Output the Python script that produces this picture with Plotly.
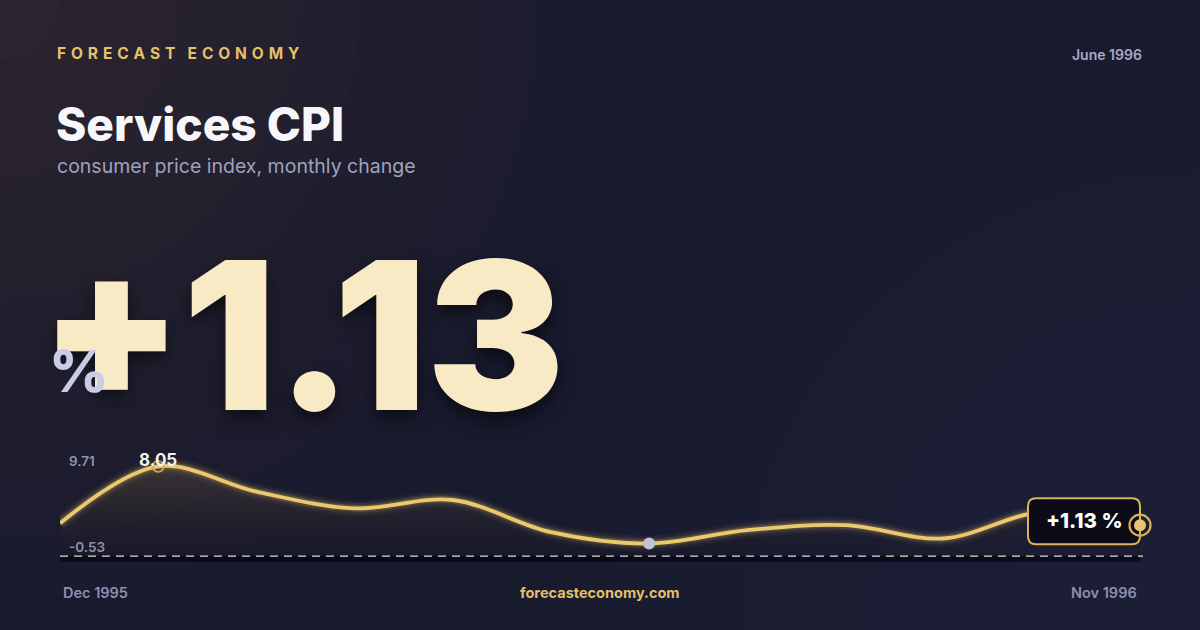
import plotly.graph_objects as go

W, H = 1200, 630

# monthly change
months = ["Dec 1995", "Jan 1996", "Feb 1996", "Mar 1996", "Apr 1996", "May 1996",
          "Jun 1996", "Jul 1996", "Aug 1996", "Sep 1996", "Oct 1996", "Nov 1996"]
values = [2.94, 8.05, 5.79, 4.29, 5.04, 2.15, 1.13, 2.33, 2.78, 1.58, 3.95, 2.78]
y_range = [-0.53, 9.71]
headline = "+1.13"
report_month = "June 1996"

GOLD = "#ecc96c"
BG = "#181a2e"
FONT = "Inter"


def px(x):
    return x / W


def py(y):
    return 1 - y / H


xs = list(range(len(months)))
peak_i = values.index(max(values))
low_i = values.index(min(values))
last_i = len(values) - 1

# plot area runs a bit past the last month so the end marker is not clipped
x_left, x_last, x_right = 60, 1140, 1160
x_max = xs[-1] * (x_right - x_left) / (x_last - x_left)

fig = go.Figure()

# glow layers under the line
for width, alpha in [(16, 0.05), (11, 0.1), (7, 0.2)]:
    fig.add_trace(go.Scatter(x=xs, y=values, mode="lines",
                             line=dict(color=f"rgba(236,201,108,{alpha})", width=width,
                                       shape="spline", smoothing=1.0),
                             hoverinfo="skip", cliponaxis=False))

fig.add_trace(go.Scatter(
    x=xs, y=values, mode="lines", fill="tozeroy",
    fillgradient=dict(type="vertical",
                      colorscale=[[0, "rgba(20,18,30,0.2)"], [1, "rgba(110,90,60,0.38)"]]),
    line=dict(color=GOLD, width=3.8, shape="spline", smoothing=1.0),
    hoverinfo="skip", cliponaxis=False))

# peak marker
fig.add_trace(go.Scatter(x=[xs[peak_i]], y=[values[peak_i]], mode="markers",
                         marker=dict(size=11, color="rgba(0,0,0,0)",
                                     line=dict(color="#d9ad4f", width=1.5)),
                         hoverinfo="skip", cliponaxis=False))
# low marker
fig.add_trace(go.Scatter(x=[xs[low_i]], y=[values[low_i]], mode="markers",
                         marker=dict(size=12, color="#bfc2d9"),
                         hoverinfo="skip", cliponaxis=False))

shapes = []
# warm glow in top-left corner, faint cool tint bottom-right
for i in range(10):
    r = 60 + i * 60
    shapes.append(dict(type="circle", xref="paper", yref="paper", layer="below",
                       x0=px(-r), x1=px(r), y0=py(r), y1=py(-r),
                       fillcolor="rgb(130,100,70)", opacity=0.025, line=dict(width=0)))
for i in range(4):
    r = 200 + i * 130
    shapes.append(dict(type="circle", xref="paper", yref="paper", layer="below",
                       x0=px(W - r), x1=px(W + r), y0=py(H + r), y1=py(H - r),
                       fillcolor="rgb(60,55,140)", opacity=0.03, line=dict(width=0)))

# dark band below zero
shapes.append(dict(type="rect", xref="x", yref="y", layer="below",
                   x0=xs[0], x1=xs[-1], y0=y_range[0] - 0.3, y1=0,
                   fillcolor="rgba(6,6,14,0.7)", line=dict(width=0)))
# zero line
shapes.append(dict(type="line", xref="paper", yref="y", layer="above",
                   x0=px(60), x1=px(1143), y0=0, y1=0,
                   line=dict(color="rgba(255,255,255,0.85)", width=1.3, dash="8px,6px")))

# callout box anchored to the last point
box = ("M -104,27 L -8,27 Q 0,27 0,19 L 0,-11 Q 0,-19 -8,-19 "
       "L -104,-19 Q -112,-19 -112,-11 L -112,19 Q -112,27 -104,27 Z")
shapes.append(dict(type="path", xref="x", yref="y", layer="above",
                   xsizemode="pixel", ysizemode="pixel",
                   xanchor=xs[last_i], yanchor=values[last_i], path=box,
                   fillcolor="#0b0c18", line=dict(color="#d9b45a", width=2)))
# end marker ring + dot
shapes.append(dict(type="circle", xref="x", yref="y", layer="above",
                   xsizemode="pixel", ysizemode="pixel",
                   xanchor=xs[last_i], yanchor=values[last_i],
                   x0=-10.5, x1=10.5, y0=-10.5, y1=10.5,
                   fillcolor="rgba(0,0,0,0)", line=dict(color="#d9b050", width=2.2)))
shapes.append(dict(type="circle", xref="x", yref="y", layer="above",
                   xsizemode="pixel", ysizemode="pixel",
                   xanchor=xs[last_i], yanchor=values[last_i],
                   x0=-6, x1=6, y0=-6, y1=6,
                   fillcolor="#e8c46c", line=dict(width=0)))

ann = []


def text(x, y, s, size, color, weight=400, anchor="left", family=FONT, shadow=None):
    f = dict(family=family, size=size, color=color, weight=weight)
    if shadow:
        f["shadow"] = shadow
    ann.append(dict(x=px(x), y=py(y), xref="paper", yref="paper", text=s,
                    showarrow=False, xanchor=anchor, yanchor="middle", font=f))


brand = "\u200a ".join("FORECAST") + " \u200a  " + "\u200a ".join("ECONOMY")
text(55, 53, brand, 15.5, "#e6c06a", 700)
text(1144, 54, report_month, 14, "#a7aac4", 600, "right")
text(54, 124, "Services CPI", 46, "#f7f7fb", 800)
text(55, 166, "consumer price index, monthly change", 19.5, "#9fa2be", 400)

text(38, 335, headline, 206, "#f8eac4", 900,
     shadow="0px 8px 18px rgba(0,0,0,0.55)")
text(47, 371, "%", 58, "#c9cce6", 800)

text(67, 461, f"{y_range[1]:.2f}", 13.5, "#8f93b0", 600)
text(67, 547, f"{y_range[0]:.2f}", 13.5, "#8f93b0", 600)

text(61, 592, months[0], 14.5, "#8c90b0", 600)
text(1139, 592, months[-1], 14.5, "#8c90b0", 600, "right")
text(600, 592, "forecasteconomy.com", 14.5, "#e3bf6a", 700, "center")

# data-anchored labels
ann.append(dict(x=xs[peak_i], y=values[peak_i], xref="x", yref="y",
                text=f"{values[peak_i]:.2f}", showarrow=False, yshift=6,
                font=dict(family=FONT, size=17, color="#f2f2f2", weight=700)))
ann.append(dict(x=xs[last_i], y=values[last_i], xref="x", yref="y",
                text=f"{headline} %", showarrow=False, xshift=-56, yshift=5,
                font=dict(family=FONT, size=20.5, color="#ffffff", weight=800)))

fig.update_layout(
    width=W, height=H,
    margin=dict(l=0, r=0, t=0, b=0),
    paper_bgcolor=BG, plot_bgcolor="rgba(0,0,0,0)",
    showlegend=False,
    xaxis=dict(domain=[px(x_left), px(x_right)], range=[xs[0], x_max], visible=False, fixedrange=True),
    yaxis=dict(domain=[py(562), py(448)], range=y_range, visible=False, fixedrange=True),
    shapes=shapes, annotations=ann,
)

fig.write_html("out.html", config={"displayModeBar": False},
               post_script="document.body.style.margin='0';")
